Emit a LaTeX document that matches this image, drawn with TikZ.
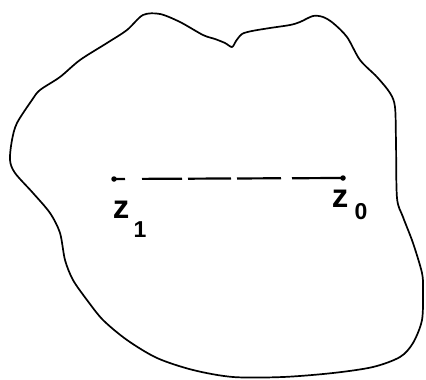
\documentclass[tikz,border=0pt]{standalone}
\usepackage{fontspec}
\setmainfont{Liberation Sans}
\begin{document}
\begin{tikzpicture}[x=1pt,y=-1pt,
  outline/.style={line width=1.7pt,line join=round},
  seg/.style={line width=2.2pt,dash pattern=on 11pt off 17pt on 40pt off 6pt on 43pt off 6pt on 44pt off 11pt on 60pt},
  pt/.style={circle,fill,inner sep=0pt,minimum size=5.5pt},
  zlab/.style={inner sep=0pt,font=\bfseries\fontsize{33}{33}\selectfont},
  sublab/.style={inner sep=0pt,font=\bfseries\fontsize{23}{23}\selectfont}]
\useasboundingbox (0,0) rectangle (426,380);
\draw[outline] plot[smooth cycle,tension=0.5] coordinates {
 (143,15) (160,14) (180,22) (203,35) (215,39) (225,43) (232,47) (236,41) (242,34)
 (252,31) (270,28) (290,25) (300,22) (313,16) (323,17) (333,23) (347,37) (360,60)
 (377,77) (390,93) (395,107) (396,143) (397,198) (403,217) (413,243) (422,273)
 (423,290) (422,320) (413,343) (400,357) (373,367) (333,373) (283,377) (233,377)
 (193,370) (157,358) (127,340) (103,320) (87,300) (73,280) (65,260) (60,233)
 (50,213) (33,193) (15,173) (10,160) (12,140) (17,123) (32,100) (40,90) (60,77)
 (80,60) (107,43) (127,30)};
\node[pt] (z1) at (114,179) {};
\node[pt] (z0) at (343,178) {};
\draw[seg] (z1.center) -- (z0.center);
\node[zlab] (lz1) at (121,210) {z};
\node[sublab] (s1) at (140,230) {1};
\node[zlab] (lz0) at (340,199) {z};
\node[sublab] (s0) at (361,212) {0};
\end{tikzpicture}
\end{document}
